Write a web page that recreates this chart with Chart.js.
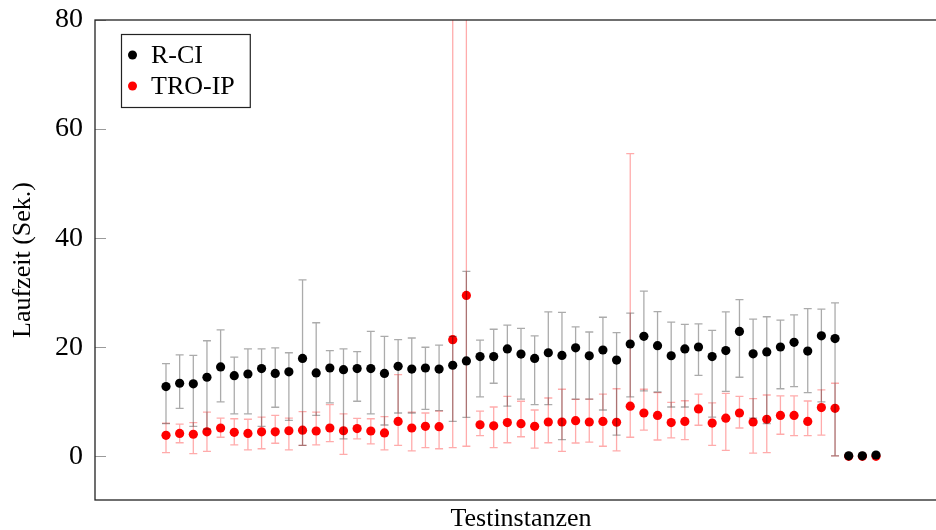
<!DOCTYPE html>
<html>
<head>
<meta charset="utf-8">
<script src="https://cdn.jsdelivr.net/npm/chart.js@4.4.1/dist/chart.umd.min.js"></script>
<style>
html,body{margin:0;padding:0;background:#fff;overflow:hidden;width:936px;height:530px;}
#wrap{width:960px;height:530px;}
</style>
</head>
<body>
<div id="wrap"><canvas id="c" width="960" height="530"></canvas></div>
<script>
// ---- data ----
const instances = [1,2,3,4,5,6,7,8,9,10,11,12,13,14,15,16,17,18,19,20,21,22,23,24,25,26,27,28,29,30,31,32,33,34,35,36,37,38,39,40,41,42,43,44,45,46,47,48,49,50,51,52,53];
const seriesNames = ['R-CI', 'TRO-IP'];
const yTickValues = [0, 20, 40, 60, 80];

const rciMean = [12.8,13.4,13.3,14.5,16.4,14.8,15.1,16.1,15.2,15.5,17.95,15.3,16.2,15.9,16.1,16.1,15.2,16.5,16.0,16.2,16.0,16.7,17.5,18.3,18.3,19.7,18.75,17.95,19.0,18.5,19.9,18.45,19.5,17.65,20.6,22.0,20.3,18.45,19.7,20.05,18.3,19.4,22.9,18.8,19.15,20.05,20.9,19.3,22.1,21.6,0.1,0.1,0.25];
const rciHigh = [17.0,18.6,18.5,21.2,23.2,18.2,19.7,19.7,19.9,19.0,32.35,24.5,19.4,19.7,19.2,22.9,22.0,21.4,21.7,20.0,20.4,22.0,33.9,21.3,23.3,24.05,23.45,22.1,26.5,26.4,23.75,22.8,25.5,22.7,26.25,30.3,26.55,24.6,24.2,24.3,23.1,26.5,28.75,25.15,25.6,24.97,25.95,27.1,27.0,28.15,null,null,null];
const rciLow = [6.0,8.8,5.5,5.0,10.0,7.8,7.8,5.5,9.0,6.6,2.0,7.5,9.8,3.2,10.1,7.8,5.75,7.95,7.95,8.6,8.4,6.4,7.15,10.9,13.4,9.2,10.5,9.5,9.5,3.07,10.5,10.5,8.5,3.9,10.9,12.0,11.8,9.05,9.05,14.85,7.2,11.9,14.5,7.0,6.0,12.4,12.8,11.7,10.0,0.1,null,null,null];

const troMean = [3.86,4.2,4.05,4.5,5.2,4.4,4.2,4.5,4.5,4.7,4.8,4.65,5.2,4.7,5.1,4.65,4.3,6.4,5.2,5.5,5.45,21.4,29.5,5.8,5.6,6.2,6.0,5.5,6.3,6.3,6.55,6.3,6.4,6.25,9.2,7.95,7.5,6.2,6.4,8.7,6.1,7.0,7.95,6.3,6.8,7.5,7.5,6.4,8.95,8.8,0,0,0];
const troHigh = [6.1,5.9,6.2,8.1,7.0,6.9,6.8,7.2,7.5,7.0,8.2,8.1,9.5,7.8,6.97,6.9,7.3,15.0,8.1,7.95,8.3,100,95,8.3,9.05,11.0,10.1,8.5,10.7,12.3,10.45,10.5,11.4,12.4,55.5,12.3,11.7,9.9,10.2,11.4,9.8,11.55,11.0,10.6,11.25,11.1,11.1,10.15,12.2,13.4,null,null,null];
const troLow = [0.7,2.5,0.5,0.9,3.5,2.1,1.2,1.4,2.4,1.2,2.0,2.1,2.7,0.35,3.2,2.3,1.2,2.0,1.0,1.6,1.4,1.6,1.85,3.8,1.6,2.5,3.6,1.5,2.5,0.9,2.45,2.6,1.85,1.0,3.5,4.8,3.0,3.4,3.07,5.7,2.0,1.1,5.2,0.6,0.7,4.05,3.8,3.8,3.9,0.1,null,null,null];

// ---- chart ----
Chart.defaults.font.family = "'Liberation Serif', 'DejaVu Serif', serif";
Chart.defaults.color = '#000';

function pts(xs, ys){ return xs.map((x,i)=>({x:x, y:ys[i]})); }

const errorBars = {
  id: 'errorBars',
  beforeDatasetDraw(chart, args) {
    const ds = chart.data.datasets[args.index];
    if (!ds.errLow) return;
    const ctx = chart.ctx, xs = chart.scales.x, ys = chart.scales.y, ca = chart.chartArea;
    ctx.save();
    ctx.beginPath();
    ctx.rect(ca.left, ca.top, ca.right - ca.left, ca.bottom - ca.top);
    ctx.clip();
    ctx.strokeStyle = ds.errColor;
    ctx.lineWidth = 1.3;
    ds.data.forEach((p, i) => {
      const lo = ds.errLow[i], hi = ds.errHigh[i];
      if (lo == null || hi == null) return;
      const x = xs.getPixelForValue(p.x);
      const yl = ys.getPixelForValue(lo), yh = ys.getPixelForValue(hi);
      ctx.beginPath();
      ctx.moveTo(x, yl); ctx.lineTo(x, yh);
      ctx.moveTo(x - 4, yl); ctx.lineTo(x + 4, yl);
      ctx.moveTo(x - 4, yh); ctx.lineTo(x + 4, yh);
      ctx.stroke();
    });
    ctx.restore();
  }
};

const frame = {
  id: 'frame',
  afterDraw(chart) {
    const ctx = chart.ctx, ca = chart.chartArea, ys = chart.scales.y;
    ctx.save();
    ctx.strokeStyle = '#9a9a9a';
    ctx.lineWidth = 1;
    yTickValues.forEach(v => {
      const y = Math.round(ys.getPixelForValue(v)) + 0.5;
      ctx.beginPath();
      ctx.moveTo(ca.left, y); ctx.lineTo(ca.left + 11, y);
      ctx.moveTo(ca.right, y); ctx.lineTo(ca.right - 11, y);
      ctx.stroke();
    });
    ctx.strokeStyle = '#222';
    ctx.lineWidth = 1.3;
    ctx.strokeRect(ca.left, ca.top, ca.right - ca.left, ca.bottom - ca.top);
    // legend box
    const font = "26px 'Liberation Serif', 'DejaVu Serif', serif";
    ctx.font = font;
    const dss = chart.data.datasets;
    let tw = 0;
    dss.forEach(d => { tw = Math.max(tw, ctx.measureText(d.label).width); });
    const bx = ca.left + 26, by = ca.top + 14;
    const bw = 30 + tw + 15, bh = 73;
    ctx.fillStyle = '#fff';
    ctx.fillRect(bx, by, bw, bh);
    ctx.strokeStyle = '#222';
    ctx.lineWidth = 1.2;
    ctx.strokeRect(bx + 0.5, by + 0.5, bw, bh);
    dss.forEach((d, i) => {
      const cy = by + 21 + i * 31;
      ctx.fillStyle = d.pointBackgroundColor;
      ctx.beginPath();
      ctx.arc(bx + 11.5, cy, 4.5, 0, Math.PI * 2);
      ctx.fill();
      ctx.fillStyle = '#000';
      ctx.textBaseline = 'middle';
      ctx.textAlign = 'left';
      ctx.fillText(d.label, bx + 30, cy + 1);
    });
    ctx.restore();
  }
};

new Chart(document.getElementById('c'), {
  type: 'scatter',
  data: {
    datasets: [
      {
        label: seriesNames[0],
        data: pts(instances, rciMean),
        errLow: rciLow, errHigh: rciHigh,
        errColor: 'rgba(0,0,0,0.33)',
        pointBackgroundColor: '#000', pointBorderWidth: 0, pointRadius: 4.6,
        borderColor: '#000', backgroundColor: '#000'
      },
      {
        label: seriesNames[1],
        data: pts(instances, troMean),
        errLow: troLow, errHigh: troHigh,
        errColor: 'rgba(255,0,0,0.33)',
        pointBackgroundColor: '#ff0000', pointBorderWidth: 0, pointRadius: 4.6,
        borderColor: '#ff0000', backgroundColor: '#ff0000'
      }
    ]
  },
  options: {
    responsive: false,
    animation: false,
    devicePixelRatio: 1,
    layout: { padding: { top: 20, right: 13, left: 0, bottom: 0 } },
    plugins: { legend: { display: false }, tooltip: { enabled: false } },
    scales: {
      x: {
        type: 'linear', min: -4.2, max: 58.2,
        grid: { display: false, drawTicks: false },
        border: { display: false },
        ticks: { display: false },
        title: { display: true, text: 'Testinstanzen', font: { size: 26 }, color: '#000', padding: { top: 0, bottom: -5 } },
        afterFit(s) { s.height = 30; s.paddingLeft = 0; s.paddingRight = 0; }
      },
      y: {
        type: 'linear', min: -8, max: 80,
        grid: { display: false, drawTicks: false },
        border: { display: false },
        afterBuildTicks(s) { s.ticks = yTickValues.map(v => ({ value: v })); },
        ticks: { font: { size: 28 }, color: '#000', padding: 12 },
        title: { display: true, text: 'Laufzeit (Sek.)', font: { size: 26 }, color: '#000', padding: { top: 8, bottom: 0 } },
        afterFit(s) { s.width = 95; s.paddingTop = 0; s.paddingBottom = 0; }
      }
    }
  },
  plugins: [errorBars, frame]
});
</script>
</body>
</html>
